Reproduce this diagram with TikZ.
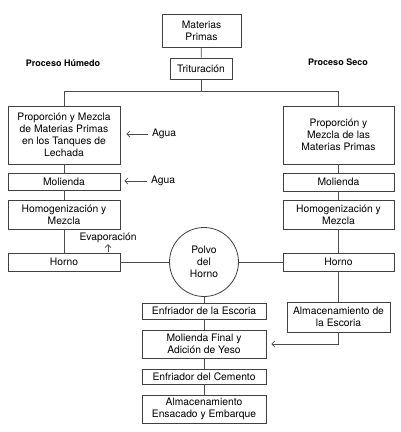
\documentclass[tikz,border=0pt]{standalone}
\usepackage{fontspec}
\setmainfont{TeX Gyre Heros}
\usetikzlibrary{arrows.meta,positioning,shapes.geometric}

\begin{document}
\begin{tikzpicture}[x=1pt,y=-1pt,
		every node/.append style={font=\fontsize{10.3}{11.8}\selectfont,inner sep=1pt},
		align=center,
		box/.style={draw=black!75,line width=0.8pt,inner sep=0pt},
		link/.style={draw=black!70,line width=0.7pt},
		arr/.style={link,-{Straight Barb[length=3pt,width=6pt]}},
		title/.style={font=\bfseries\fontsize{9}{10}\selectfont}
	]
	\useasboundingbox (0,0) rectangle (400,432);
	% top
	\node[box,minimum width=79pt,minimum height=33pt] (mp) at (201.5,30.5) {Materias\\Primas};
	\node[box,minimum width=62pt,minimum height=21pt] (trit) at (201,68.5) {Trituración};
	\node[title] (humedo) at (63,63) {Proceso Húmedo};
	\node[title] (seco) at (338,62) {Proceso Seco};
	% proceso humedo
	\node[box,minimum width=112pt,minimum height=58pt] (h1) at (64,135) {Proporción y Mezcla\\de Materias Primas\\en los Tanques de\\Lechada};
	\node[box,minimum width=112pt,minimum height=17pt] (h2) at (64,181.5) {Molienda};
	\node[box,minimum width=112pt,minimum height=29pt] (h3) at (64,214.5) {Homogenización y\\Mezcla};
	\node[box,minimum width=112pt,minimum height=18pt] (h4) at (64,262) {Horno};
	\node (agua1) at (164,134) {Agua};
	\node (agua2) at (163,181) {Agua};
	\node (evap) at (108,238) {Evaporación};
	% proceso seco
	\node[box,minimum width=111pt,minimum height=58pt] (s1) at (338.5,135) {Proporción y\\Mezcla de las\\Materias Primas};
	\node[box,minimum width=111pt,minimum height=18pt] (s2) at (338.5,182) {Molienda};
	\node[box,minimum width=111pt,minimum height=29pt] (s3) at (338.5,214.5) {Homogenización y\\Mezcla};
	\node[box,minimum width=111pt,minimum height=18pt] (s4) at (338.5,262) {Horno};
	\node[box,minimum width=103pt,minimum height=30pt] (s5) at (338.5,317) {Almacenamiento de\\la Escoria};
	% centro
	\node[box,circle,minimum size=69pt] (polvo) at (204,262) {Polvo\\del\\Horno};
	\node[box,minimum width=124pt,minimum height=16pt] (c1) at (204,311) {Enfriador de la Escoria};
	\node[box,minimum width=124pt,minimum height=28pt] (c2) at (204,344) {Molienda Final y\\Adición de Yeso};
	\node[box,minimum width=124pt,minimum height=15pt] (c3) at (204,376.5) {Enfriador del Cemento};
	\node[box,minimum width=124pt,minimum height=28pt] (c4) at (204,409) {Almacenamiento\\Ensacado y Embarque};
	% conexiones
	\draw[link] (mp) -- (trit);
	\draw[link] (trit.south) -- ++(0,12) coordinate (split);
	\draw[link] (h1.north) |- (split) -| (s1.north);
	\draw[link] (h1) -- (h2) -- (h3) -- (h4);
	\draw[link] (s1) -- (s2) -- (s3) -- (s4) -- (s5);
	\draw[link] (h4) -- (polvo) -- (s4);
	\draw[link] (polvo) -- (c1) -- (c2) -- (c3) -- (c4);
	\draw[arr,shorten >=5pt] (s5.south) |- (c2.east);
	\draw[arr,shorten <=3pt,shorten >=6pt] (agua1.west) -- (agua1.west -| h1.east);
	\draw[arr,shorten <=3pt,shorten >=4pt] (agua2.west) -- (agua2.west -| h2.east);
	\draw[arr,shorten <=1pt] (evap.south |- h4.north) -- (evap.south);
\end{tikzpicture}
\end{document}
